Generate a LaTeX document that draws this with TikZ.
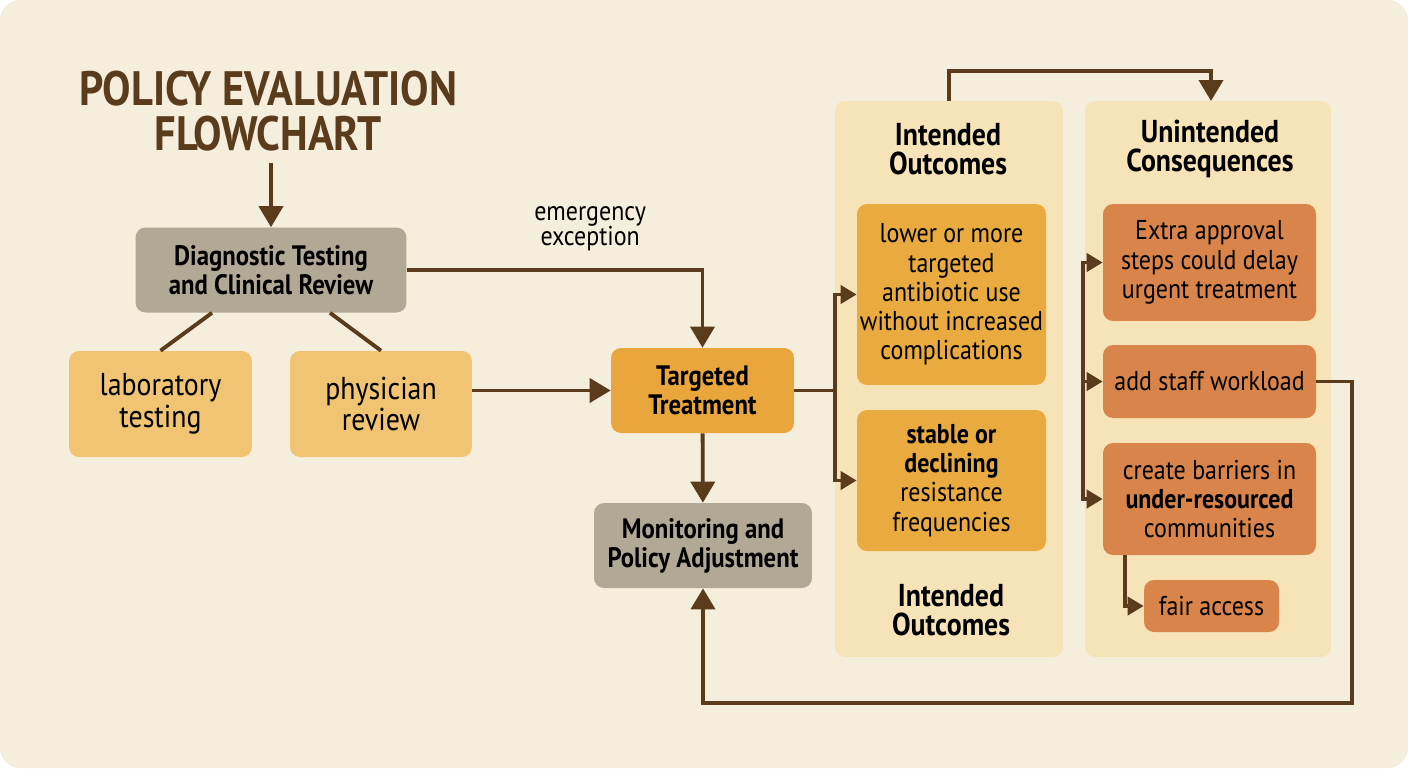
\documentclass[tikz,border=0pt]{standalone}
\usepackage{fontspec}
\setmainfont{PT Sans}[FakeStretch=0.88]
\usetikzlibrary{arrows.meta, positioning}

\definecolor{paper}{HTML}{F5EEDC}
\definecolor{slate}{HTML}{B1A996}
\definecolor{sand}{HTML}{F0C472}
\definecolor{amber}{HTML}{E8A63D}
\definecolor{panel}{HTML}{F6E3B8}
\definecolor{gold}{HTML}{E9AA40}
\definecolor{rust}{HTML}{D8844A}
\definecolor{ink}{HTML}{5A3B1C}

\begin{document}
\begin{tikzpicture}[
  x=0.02cm, y=-0.02cm,
  block/.style={rounded corners=0.2cm, align=center, inner sep=0pt, text=black},
  bodytext/.style={font=\fontsize{15.5}{16.6}\selectfont},
  boldtext/.style={font=\fontsize{16}{16.6}\selectfont\bfseries},
  heading/.style={align=center, font=\fontsize{18}{16.6}\selectfont\bfseries},
  arrow/.style={-{Triangle[length=0.42cm, width=0.48cm]}, line width=2.2pt, draw=ink},
  small arrow/.style={-{Triangle[length=0.32cm, width=0.36cm]}, line width=2.2pt, draw=ink},
  link/.style={line width=2.2pt, draw=ink}
]
  \fill[white] (0,0) rectangle (1408,768);
  \fill[paper, rounded corners=0.4cm] (0,0) rectangle (1408,768);

  \node[align=center, text=ink, font=\fontsize{27.5}{26}\selectfont\bfseries] (title) at (268,111) {POLICY EVALUATION\\FLOWCHART};

  % left side
  \node[block, fill=slate, boldtext, minimum width=5.42cm, minimum height=1.7cm] (diag) at (271,270) {Diagnostic Testing\\and Clinical Review};
  \node[block, fill=sand, font=\fontsize{18}{18}\selectfont, minimum width=3.66cm, minimum height=2.12cm] (lab) at (160.5,404) {laboratory\\testing};
  \node[block, fill=sand, font=\fontsize{18}{18}\selectfont, minimum width=3.64cm, minimum height=2.12cm] (phys) at (381,404) {physician\\review};
  \node[block, fill=amber, boldtext, minimum width=3.66cm, minimum height=1.7cm] (treat) at (702.5,390.5) {Targeted\\Treatment};
  \node[block, fill=slate, boldtext, minimum width=4.36cm, minimum height=1.7cm] (monitor) at (703,545.5) {Monitoring and\\Policy Adjustment};

  % outcome panels
  \node[block, fill=panel, minimum width=4.56cm, minimum height=11.12cm] (ipanel) at (949,379) {};
  \node[block, fill=panel, minimum width=4.92cm, minimum height=11.12cm] (upanel) at (1208,379) {};
  \node[heading] (ihead) at (948,149) {Intended\\Outcomes};
  \node[heading] (uhead) at (1210,149) {Unintended\\Consequences};
  \node[heading] (ifoot) at (951,610) {Intended\\Outcomes};

  \node[block, fill=gold, bodytext, minimum width=3.78cm, minimum height=3.62cm] (out1) at (951.5,294.5) {lower or more\\targeted\\antibiotic use\\without increased\\complications};
  \node[block, fill=gold, bodytext, minimum width=3.78cm, minimum height=2.82cm] (out2) at (951.5,480.5) {\textbf{stable or}\\\textbf{declining}\\resistance\\frequencies};

  \node[block, fill=rust, bodytext, minimum width=4.26cm, minimum height=2.34cm] (con1) at (1209.5,262.5) {Extra approval\\steps could delay\\urgent treatment};
  \node[block, fill=rust, bodytext, minimum width=4.26cm, minimum height=1.46cm] (con2) at (1209.5,381.5) {add staff workload};
  \node[block, fill=rust, bodytext, minimum width=4.26cm, minimum height=2.24cm] (con3) at (1209.5,499) {create barriers in\\\textbf{under-resourced}\\communities};
  \node[block, fill=rust, bodytext, minimum width=2.7cm, minimum height=1.04cm] (con4) at (1211.5,606) {fair access};

  \coordinate (ibr) at (835,390.5);
  \coordinate (ubr) at (1083,381.5);
  \coordinate (fb) at (1352,703);

  % connectors
  \draw[arrow] (diag.north |- 0,163) -- (diag.north);
  \draw[link] ([xshift=-1.18cm]diag.south) -- (lab.north);
  \draw[link] ([xshift=1.18cm]diag.south) -- (phys.north);
  \draw[arrow] (phys.east |- treat) -- (treat.west);
  \draw[arrow] (diag.east) -| (treat.north)
    node[pos=0.31, above=0.22cm, align=center, font=\fontsize{15.5}{14.5}\selectfont] {emergency\\exception};
  \draw[arrow] (treat) -- (monitor);
  \draw[link] (treat.east) -- (ibr);
  \draw[small arrow] (ibr) |- (out1.west);
  \draw[small arrow] (ibr) |- (out2.west);
  \draw[arrow] (ipanel.north) |- (1211,71) -- (1211,101);
  \draw[small arrow] (ubr) |- (con1.west);
  \draw[small arrow] (ubr) -- (con2.west);
  \draw[small arrow] (ubr) |- (con3.west);
  \draw[small arrow] ([xshift=0.44cm]con3.south west) |- (con4.west);
  \draw[arrow] (con2.east) -| (fb) -| (monitor.south);
\end{tikzpicture}
\end{document}
